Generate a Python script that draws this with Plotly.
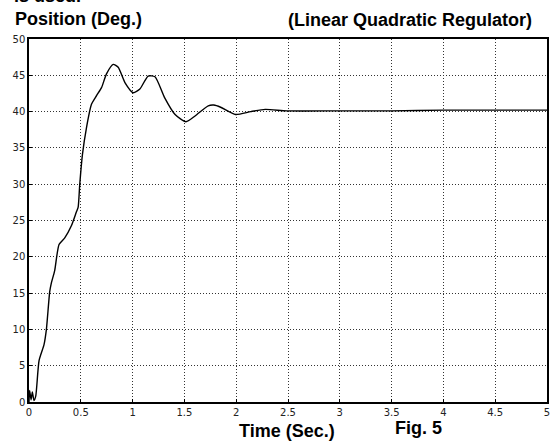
import plotly.graph_objects as go

time_sec = [0, 0.006, 0.02, 0.032, 0.048, 0.065, 0.097, 0.145, 0.168, 0.2, 0.216,
            0.248, 0.29, 0.345, 0.41, 0.458, 0.474, 0.49, 0.516, 0.555, 0.603,
            0.652, 0.7, 0.748, 0.813, 0.861, 0.926, 1.006, 1.07, 1.15, 1.216,
            1.31, 1.41, 1.515, 1.603, 1.73, 1.784, 1.85, 1.994, 2.14, 2.28, 2.49,
            3.0, 3.5, 4.0, 4.5, 5.0]
position_deg = [0, 1.6, 0.3, 1.4, 0.2, 0.8, 5.7, 7.9, 10.0, 15.2, 16.4,
                18.1, 21.7, 22.6, 24.3, 26.2, 26.8, 30.0, 34.1, 37.8, 41.0,
                42.2, 43.3, 45.2, 46.5, 46.1, 44.0, 42.6, 43.1, 44.9, 44.8,
                41.9, 39.6, 38.6, 39.4, 40.8, 40.9, 40.6, 39.6, 40.0, 40.3, 40.1,
                40.1, 40.1, 40.2, 40.2, 40.2]

x_ticks = [0, 0.5, 1, 1.5, 2, 2.5, 3, 3.5, 4, 4.5, 5]
x_tick_labels = ["0", "0.5", "1", "1.5", "2", "2.5", "3", "3.5", "4", "4.5", "5"]
y_ticks = [0, 5, 10, 15, 20, 25, 30, 35, 40, 45, 50]
y_tick_labels = ["0", "5", "10", "15", "20", "25", "30", "35", "40", "45", "50"]

W, H = 552, 443
ML, MR, MT, MB = 29, 5, 39, 41

fig = go.Figure()
fig.add_trace(go.Scatter(
    x=time_sec, y=position_deg, mode="lines",
    line=dict(color="black", width=1.4, shape="spline", smoothing=0.6),
    showlegend=False, hoverinfo="skip"))

axis_common = dict(
    showgrid=True, gridcolor="#333", griddash="1px,2px", gridwidth=1,
    showline=True, linecolor="black", linewidth=1.5, mirror=True,
    ticks="inside", ticklen=3, tickcolor="black",
    zeroline=False, automargin=False,
    tickfont=dict(family="DejaVu Sans", size=10, color="#222"),
)

fig.update_xaxes(range=[0, 5], tickvals=x_ticks, ticktext=x_tick_labels, **axis_common)
fig.update_yaxes(range=[0, 50], tickvals=y_ticks, ticktext=y_tick_labels, **axis_common)

title_font = dict(family="Liberation Sans", size=18, color="black")


def px_ann(text, px_x, px_y, xanchor, yanchor):
    return dict(text=text, xref="paper", yref="paper",
                x=(px_x - ML) / (W - ML - MR),
                y=((H - px_y) - MB) / (H - MT - MB),
                showarrow=False, font=title_font,
                xanchor=xanchor, yanchor=yanchor)


fig.update_layout(
    template="none",
    width=W, height=H,
    margin=dict(l=ML, r=MR, t=MT, b=MB, autoexpand=False),
    paper_bgcolor="white", plot_bgcolor="white",
    font=dict(family="Liberation Sans", color="black"),
    annotations=[
        px_ann("<b>is used.</b>", 12, 8, "left", "bottom"),
        px_ann("<b>Position (Deg.)</b>", 13, 19, "left", "middle"),
        px_ann("<b>(Linear Quadratic Regulator)</b>", 534, 20, "right", "middle"),
        px_ann("<b>Time (Sec.)</b>", 287, 431, "center", "middle"),
        px_ann("<b>Fig. 5</b>", 418, 428, "center", "middle"),
    ],
)

fig.write_html("out.html",
               config={"displayModeBar": False},
               post_script="document.body.style.margin='0';document.body.style.padding='0';")
